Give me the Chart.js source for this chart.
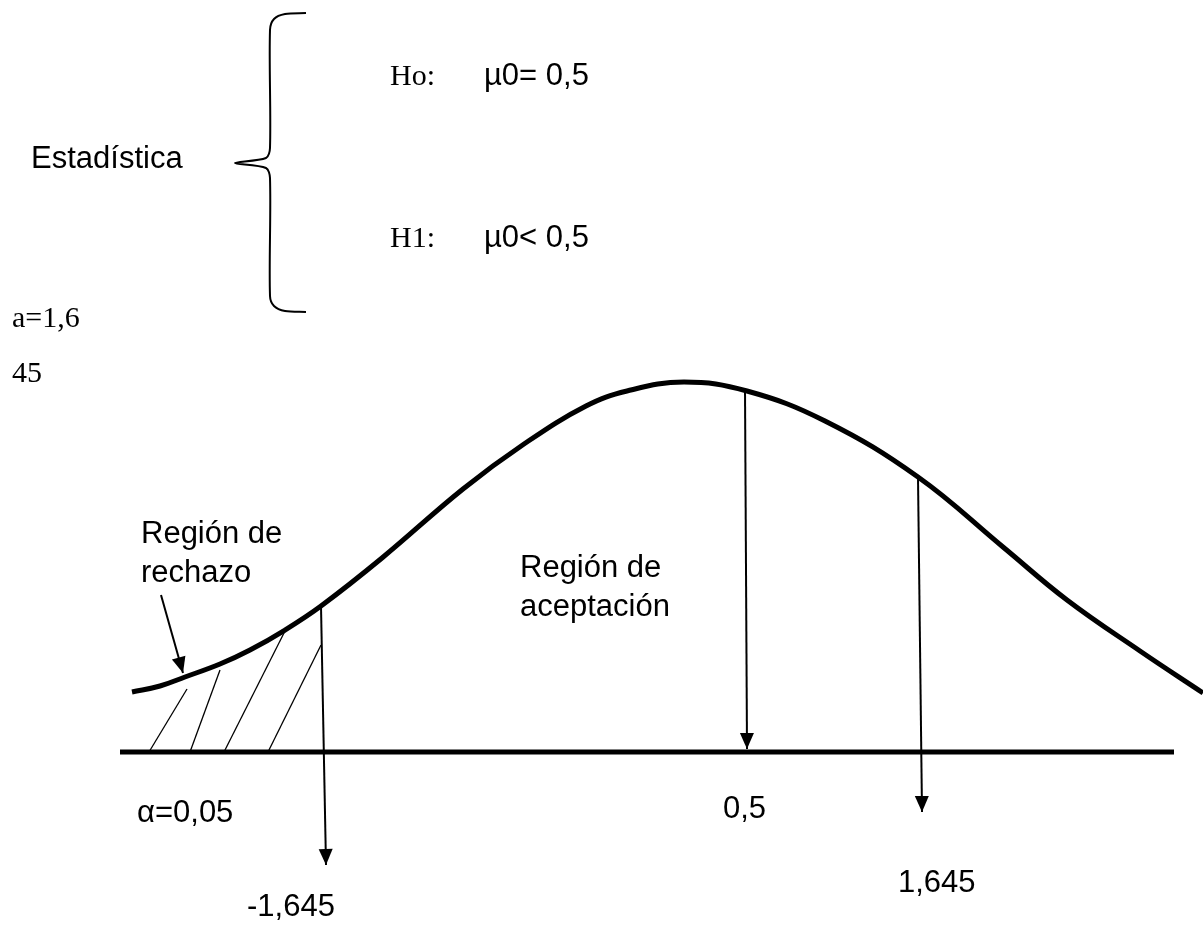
<!DOCTYPE html>
<html>
<head>
<meta charset="utf-8">
<script src="https://cdn.jsdelivr.net/npm/chart.js@4/dist/chart.umd.min.js"></script>
<style>
  body { margin: 0; background: #ffffff; }
  #wrap { width: 1203px; height: 927px; }
</style>
</head>
<body>
<div id="wrap"><canvas id="GraficoHipotesis"></canvas></div>
<script>
// curva normal dibujada a mano (coordenadas del dibujo, y hacia abajo)
var curvaX = [132, 160, 185, 220, 250, 285, 321, 382, 463, 524, 586, 627, 684, 747, 825, 918, 1003, 1067, 1140, 1203];
var curvaY = [692, 686, 677, 664, 650, 630, 606, 558, 489, 444, 406, 391, 382, 391, 421, 477, 547, 600, 651, 693];

var ejeX = [120, 1174];
var ejeY = [752, 752];

// rayado de la region de rechazo: [x abajo, y abajo, x arriba, y arriba]
var rayado = [
    [149, 752, 187, 689],
    [190, 752, 220, 670],
    [224, 752, 285, 631],
    [268, 752, 321, 645]
];

// flechas: [x inicio, y inicio, x punta, y punta]
var flechas = [
    [321, 606, 326, 865],
    [745, 390, 747, 749],
    [918, 477, 922, 812],
    [161, 595, 183, 673]
];

var llaveX = [306, 285, 274, 270, 270, 266, 235, 266, 270, 270, 274, 285, 306];
var llaveY = [13, 14, 19, 30, 148, 158, 163, 168, 178, 296, 306, 311, 312];

var textos = [
    { t: "Estadística", x: 31, y: 168, f: "31px 'Liberation Sans'" },
    { t: "Ho:", x: 390, y: 85, f: "30px 'Liberation Serif'" },
    { t: "µ0= 0,5", x: 484, y: 85, f: "31px 'Liberation Sans'" },
    { t: "H1:", x: 390, y: 247, f: "30px 'Liberation Serif'" },
    { t: "µ0< 0,5", x: 484, y: 247, f: "31px 'Liberation Sans'" },
    { t: "a=1,6", x: 12, y: 327, f: "30px 'Liberation Serif'" },
    { t: "45", x: 12, y: 382, f: "30px 'Liberation Serif'" },
    { t: "Región de", x: 141, y: 543, f: "31px 'Liberation Sans'" },
    { t: "rechazo", x: 141, y: 582, f: "31px 'Liberation Sans'" },
    { t: "Región de", x: 520, y: 577, f: "31px 'Liberation Sans'" },
    { t: "aceptación", x: 520, y: 616, f: "31px 'Liberation Sans'" },
    { t: "α=0,05", x: 137, y: 822, f: "31px 'Liberation Sans'" },
    { t: "0,5", x: 723, y: 818, f: "31px 'Liberation Sans'" },
    { t: "-1,645", x: 247, y: 916, f: "31px 'Liberation Sans'" },
    { t: "1,645", x: 898, y: 892, f: "31px 'Liberation Sans'" }
];

function Puntos(xs, ys) {
    var p = [];
    for (var i = 0; i < xs.length; i++) {
        p.push({ x: xs[i], y: ys[i] });
    }
    return p;
}

var datasets = [];

datasets.push({
    data: Puntos(curvaX, curvaY),
    borderColor: "#000000",
    borderWidth: 5,
    tension: 0.4,
    pointRadius: 0,
    fill: false
});

datasets.push({
    data: Puntos(ejeX, ejeY),
    borderColor: "#000000",
    borderWidth: 5,
    borderCapStyle: "butt",
    pointRadius: 0,
    fill: false
});

rayado.forEach(function (r) {
    datasets.push({
        data: [{ x: r[0], y: r[1] }, { x: r[2], y: r[3] }],
        borderColor: "#000000",
        borderWidth: 1.3,
        pointRadius: 0,
        fill: false
    });
});

flechas.forEach(function (f) {
    datasets.push({
        data: [{ x: f[0], y: f[1] }, { x: f[2], y: f[3] }],
        borderColor: "#000000",
        borderWidth: 2,
        pointRadius: 0,
        fill: false,
        flecha: true
    });
});

datasets.push({
    data: Puntos(llaveX, llaveY),
    borderColor: "#000000",
    borderWidth: 2,
    tension: 0.3,
    pointRadius: 0,
    fill: false
});

var puntasFlecha = {
    id: "puntasFlecha",
    afterDatasetsDraw: function (chart) {
        var ctx = chart.ctx;
        chart.data.datasets.forEach(function (ds, i) {
            if (!ds.flecha) return;
            var pts = chart.getDatasetMeta(i).data;
            var a = pts[pts.length - 2], b = pts[pts.length - 1];
            var ang = Math.atan2(b.y - a.y, b.x - a.x);
            var largo = 16, ancho = 7;
            ctx.save();
            ctx.fillStyle = "#000000";
            ctx.beginPath();
            ctx.moveTo(b.x, b.y);
            ctx.lineTo(b.x - largo * Math.cos(ang) + ancho * Math.sin(ang), b.y - largo * Math.sin(ang) - ancho * Math.cos(ang));
            ctx.lineTo(b.x - largo * Math.cos(ang) - ancho * Math.sin(ang), b.y - largo * Math.sin(ang) + ancho * Math.cos(ang));
            ctx.closePath();
            ctx.fill();
            ctx.restore();
        });
    }
};

var etiquetas = {
    id: "etiquetas",
    afterDraw: function (chart) {
        var ctx = chart.ctx;
        var sx = chart.scales.x, sy = chart.scales.y;
        ctx.save();
        ctx.fillStyle = "#000000";
        ctx.textAlign = "left";
        ctx.textBaseline = "alphabetic";
        textos.forEach(function (e) {
            ctx.font = e.f;
            ctx.fillText(e.t, sx.getPixelForValue(e.x), sy.getPixelForValue(e.y));
        });
        ctx.restore();
    }
};

new Chart(document.getElementById("GraficoHipotesis"), {
    type: "line",
    data: { datasets: datasets },
    options: {
        responsive: true,
        maintainAspectRatio: false,
        animation: false,
        clip: false,
        layout: { padding: 0 },
        scales: {
            x: { type: "linear", min: 0, max: 1203, display: false },
            y: { type: "linear", min: 0, max: 927, reverse: true, display: false }
        },
        plugins: {
            legend: { display: false },
            tooltip: { enabled: false }
        }
    },
    plugins: [puntasFlecha, etiquetas]
});
</script>
</body>
</html>
